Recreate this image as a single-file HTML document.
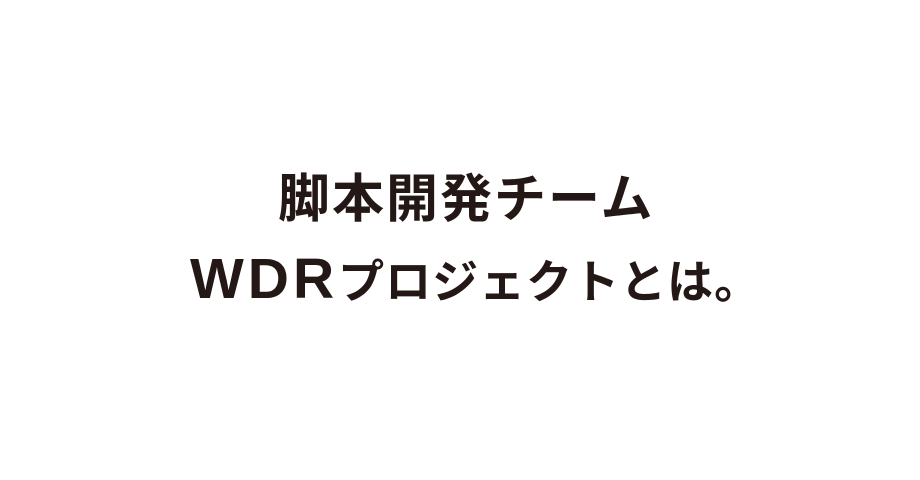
<!DOCTYPE html>
<html><head><meta charset="utf-8"><style>
html,body{margin:0;padding:0;background:#fff;}
body{width:920px;height:480px;position:relative;overflow:hidden;font-family:"Liberation Sans","Noto Sans CJK JP",sans-serif;color:#231815;font-weight:bold;}
.l1{position:absolute;left:278px;top:170px;font-size:52px;line-height:60px;white-space:nowrap;letter-spacing:2px;}
.l2{position:absolute;left:190px;top:249px;line-height:60px;white-space:nowrap;}
.w{font-size:57px;letter-spacing:4px;}
.k{font-size:46px;letter-spacing:1px;}
</style></head><body>
<div class="l1">脚本開発チーム</div>
<div class="l2"><span class="w">WDR</span><span class="k">プロジェクトとは。</span></div>
</body></html>
